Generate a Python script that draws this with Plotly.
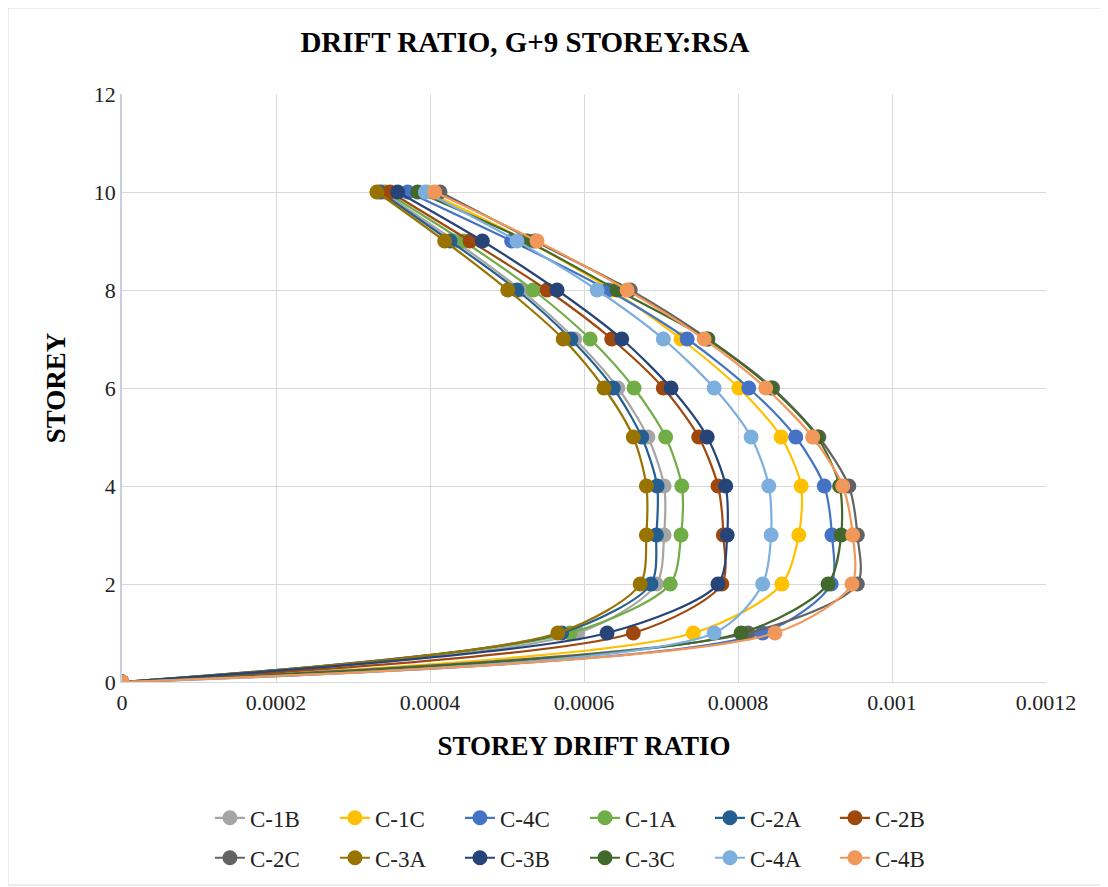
import plotly.graph_objects as go

storey = [0, 1, 2, 3, 4, 5, 6, 7, 8, 9, 10]

c_1b = [0, 0.000592, 0.000694, 0.000704, 0.000704, 0.000683, 0.000644, 0.000588, 0.000518, 0.000432, 0.000338]
c_1c = [0, 0.000742, 0.000857, 0.000879, 0.000882, 0.000856, 0.000801, 0.000726, 0.000636, 0.000526, 0.000397]
c_4c = [0, 0.000832, 0.000921, 0.000922, 0.000912, 0.000875, 0.000814, 0.000734, 0.000631, 0.000506, 0.000371]
c_1a = [0, 0.000582, 0.000712, 0.000726, 0.000727, 0.000706, 0.000665, 0.000608, 0.000534, 0.000443, 0.000342]
c_2a = [0, 0.000571, 0.000687, 0.000694, 0.000695, 0.000675, 0.000638, 0.000583, 0.000513, 0.000426, 0.000335]
c_2b = [0, 0.000664, 0.000779, 0.000781, 0.000774, 0.000749, 0.000703, 0.000636, 0.000552, 0.000452, 0.000348]
c_2c = [0, 0.000813, 0.000955, 0.000955, 0.000944, 0.000905, 0.000845, 0.000761, 0.000660, 0.000536, 0.000413]
c_3a = [0, 0.000566, 0.000673, 0.000681, 0.000681, 0.000664, 0.000626, 0.000573, 0.000501, 0.000419, 0.000331]
c_3b = [0, 0.000630, 0.000774, 0.000786, 0.000784, 0.000760, 0.000713, 0.000649, 0.000565, 0.000468, 0.000358]
c_3c = [0, 0.000804, 0.000917, 0.000934, 0.000932, 0.000903, 0.000843, 0.000760, 0.000643, 0.000526, 0.000384]
c_4a = [0, 0.000769, 0.000832, 0.000843, 0.000840, 0.000817, 0.000769, 0.000703, 0.000617, 0.000513, 0.000394]
c_4b = [0, 0.000848, 0.000948, 0.000949, 0.000936, 0.000897, 0.000836, 0.000756, 0.000656, 0.000539, 0.000406]

names = ["C-1B", "C-1C", "C-4C", "C-1A", "C-2A", "C-2B",
         "C-2C", "C-3A", "C-3B", "C-3C", "C-4A", "C-4B"]
series = [c_1b, c_1c, c_4c, c_1a, c_2a, c_2b, c_2c, c_3a, c_3b, c_3c, c_4a, c_4b]
colors = ["#A5A5A5", "#FFC000", "#4472C4", "#70AD47", "#255E91", "#9E480E",
          "#636363", "#997300", "#264478", "#43682B", "#7CAFDD", "#F1975A"]

xticks = [0, 0.0002, 0.0004, 0.0006, 0.0008, 0.001, 0.0012]
xticktext = ["0", "0.0002", "0.0004", "0.0006", "0.0008", "0.001", "0.0012"]

font = "Liberation Serif, Times New Roman, serif"

fig = go.Figure()
for i, (nm, vals, col) in enumerate(zip(names, series, colors)):
    fig.add_trace(go.Scatter(
        x=vals, y=storey, name=nm, mode="lines+markers",
        line=dict(color=col, width=2.2, shape="spline", smoothing=0.8),
        marker=dict(color=col, size=15),
        legend="legend" if i < 6 else "legend2",
    ))

# page is drawn with an 8px body margin, so margins are shifted a bit
leg = dict(orientation="h", xanchor="center", x=0.501, yanchor="middle",
           font=dict(family=font, size=23, color="#222"),
           entrywidth=80, itemwidth=30, bgcolor="rgba(0,0,0,0)")

fig.update_layout(
    width=1108, height=887,
    margin=dict(l=114, r=70, t=86, b=213),
    paper_bgcolor="white", plot_bgcolor="white",
    title=dict(text="<b>DRIFT RATIO, G+9 STOREY:RSA</b>", x=0.4665, xanchor="center",
               y=0.962, yanchor="middle",
               font=dict(family=font, size=29, color="black")),
    font=dict(family=font, size=22, color="black"),
    xaxis=dict(range=[0, 0.0012], tickvals=xticks, ticktext=xticktext,
               showgrid=True, gridcolor="#D9D9D9", gridwidth=1.3, zeroline=False,
               showline=True, linecolor="#D9D9D9", linewidth=1.3, ticks="",
               tickfont=dict(family=font, size=22, color="#222"),
               title=dict(text="<b>STOREY DRIFT RATIO</b>", standoff=22,
                          font=dict(family=font, size=27, color="black"))),
    yaxis=dict(range=[0, 12], dtick=2, showgrid=True, gridcolor="#D9D9D9", gridwidth=1.3,
               zeroline=False, showline=True, linecolor="#C9CFDC", linewidth=1.5, ticks="",
               tickfont=dict(family=font, size=22, color="#222"),
               title=dict(text="<b>STOREY</b>", standoff=20,
                          font=dict(family=font, size=27, color="black"))),
    legend=dict(leg, y=-0.231),
    legend2=dict(leg, y=-0.299),
    shapes=[dict(type="rect", xref="paper", yref="paper",
                 x0=-0.1234, x1=1.0649, y0=-0.3452, y1=1.1463,
                 line=dict(color="#D9D9D9", width=1))],
)

fig.write_html("out.html")
